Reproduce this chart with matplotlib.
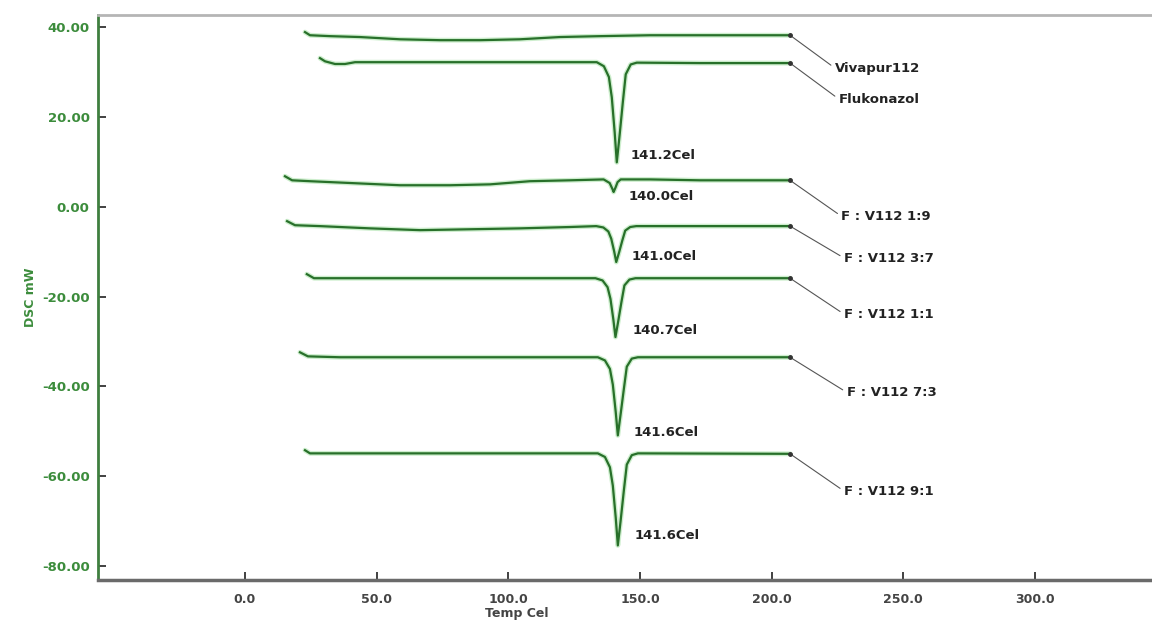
import matplotlib
matplotlib.use("Agg")
import matplotlib.pyplot as plt

# Thermogrammes DSC : temperature (Cel) et flux (mW) releves point par point
vivapur_t = [22.8, 24.7, 32.3, 43.7, 58.9, 74.1, 89.3, 104.4, 119.6, 134.8, 153.8, 172.8, 207.0]
vivapur_y = [38.9, 38.2, 38.0, 37.8, 37.3, 37.1, 37.1, 37.3, 37.8, 38.0, 38.2, 38.2, 38.2]

fluko_t = [28.5, 30.4, 34.2, 38.0, 41.8, 47.5, 77.9, 115.8, 133.6, 136.3, 138.2, 139.3, 140.4,
           141.2, 142.3, 143.5, 144.6, 146.5, 148.8, 172.8, 207.0]
fluko_y = [33.1, 32.4, 31.8, 31.8, 32.2, 32.2, 32.2, 32.2, 32.2, 31.3, 28.9, 24.4, 16.6,
           9.9, 16.1, 23.3, 29.5, 31.7, 32.1, 32.0, 32.0]

f19_t = [15.2, 17.9, 24.7, 39.9, 58.9, 77.9, 93.1, 108.2, 123.4, 136.2, 138.5, 139.6,
         140.0, 140.8, 141.5, 142.7, 153.8, 172.8, 207.0]
f19_y = [6.8, 5.9, 5.7, 5.3, 4.8, 4.8, 5.0, 5.7, 5.9, 6.1, 5.3, 3.9,
         3.3, 4.4, 5.5, 6.1, 6.1, 5.9, 5.9]

f37_t = [16.0, 19.0, 28.5, 47.5, 66.5, 85.5, 104.4, 123.4, 133.4, 136.1, 138.0, 139.1, 140.2,
         141.0, 142.1, 143.3, 144.4, 146.3, 148.6, 172.8, 207.0]
f37_y = [-3.2, -4.1, -4.3, -4.8, -5.2, -5.0, -4.8, -4.5, -4.3, -4.6, -5.5, -7.1, -9.9,
         -12.3, -10.1, -7.5, -5.3, -4.5, -4.3, -4.3, -4.3]

f11_t = [23.5, 26.2, 58.9, 115.8, 133.1, 135.8, 137.7, 138.8, 139.9,
         140.7, 141.8, 143.0, 144.1, 146.0, 148.3, 207.0]
f11_y = [-15.0, -15.9, -15.9, -15.9, -15.9, -16.4, -17.9, -20.5, -25.1,
         -29.0, -25.3, -21.1, -17.5, -16.2, -15.9, -15.9]

f73_t = [20.9, 23.9, 36.1, 115.8, 134.0, 136.7, 138.6, 139.7, 140.8,
         141.6, 142.7, 143.9, 145.0, 146.9, 149.2, 207.0]
f73_y = [-32.4, -33.3, -33.5, -33.5, -33.5, -34.2, -36.1, -39.6, -45.7,
         -50.9, -46.0, -40.5, -35.6, -33.8, -33.5, -33.5]

f91_t = [22.8, 24.7, 115.8, 134.0, 136.7, 138.6, 139.7, 140.8,
         141.6, 142.7, 143.9, 145.0, 146.9, 149.2, 207.0]
f91_y = [-54.2, -54.9, -54.9, -54.9, -55.7, -58.0, -62.1, -69.2,
         -75.4, -69.7, -63.1, -57.4, -55.3, -54.9, -55.0]

noms = ["Vivapur112", "Flukonazol", "F : V112 1:9", "F : V112 3:7",
        "F : V112 1:1", "F : V112 7:3", "F : V112 9:1"]
courbes_t = [vivapur_t, fluko_t, f19_t, f37_t, f11_t, f73_t, f91_t]
courbes_y = [vivapur_y, fluko_y, f19_y, f37_y, f11_y, f73_y, f91_y]

# Position des etiquettes a droite (temperature, mW)
etiquettes_t = [224.0, 225.5, 226.5, 227.5, 227.5, 228.5, 227.5]
etiquettes_y = [30.9, 24.0, -2.1, -11.4, -23.9, -41.3, -63.3]

# Pics de fusion annotes
pics_t = [141.2, 140.0, 141.0, 140.7, 141.6, 141.6]
pics_y = [9.9, 3.3, -12.3, -29.0, -50.9, -75.4]
pics_texte = ["141.2Cel", "140.0Cel", "141.0Cel", "140.7Cel", "141.6Cel", "141.6Cel"]
pics_decalage = [(10, 5), (11, -3), (11, 4), (12, 5), (11, 2), (12, 7)]

x_ticks = [0, 50, 100, 150, 200, 250, 300]
y_ticks = [40, 20, 0, -20, -40, -60, -80]

vert = "#28702a"
vert_clair = "#cdeecd"
gris = "#333333"

fig = plt.figure(figsize=(11.52, 6.24), dpi=100)
ax = fig.add_axes([0.0851, 0.0705, 0.915, 0.9054])

for t, y in zip(courbes_t, courbes_y):
    ax.plot(t, y, color=vert_clair, lw=3.5, solid_capstyle="round", zorder=2)
    ax.plot(t, y, color=vert, lw=1.6, zorder=3)
    ax.plot(t[-1], y[-1], marker="o", ms=2.5, color=gris, zorder=4)

for t, y, nom, lt, ly in zip(courbes_t, courbes_y, noms, etiquettes_t, etiquettes_y):
    ax.annotate(nom, xy=(t[-1], y[-1]), xytext=(lt, ly), ha="left", va="center",
                fontsize=9.5, fontweight="bold", color="#222222",
                arrowprops=dict(arrowstyle="-", color="#555555", lw=0.8,
                                relpos=(0, 0.5), shrinkA=1, shrinkB=0))

for pt, py, txt, dec in zip(pics_t, pics_y, pics_texte, pics_decalage):
    ax.annotate(txt, xy=(pt, py), xytext=dec, textcoords="offset points",
                ha="left", va="center", fontsize=9.5, fontweight="bold", color="#222222")

ax.set_xlim(-55.8, 344.5)
ax.set_ylim(-83.1, 42.7)
ax.set_xticks(x_ticks)
ax.set_xticklabels([f"{v:.1f}" for v in x_ticks])
ax.set_yticks(y_ticks)
ax.set_yticklabels([f"{v:.2f}" for v in y_ticks])

ax.tick_params(axis="both", direction="in", length=6, width=1.3, color=gris)
ax.tick_params(axis="y", pad=6, labelsize=9.5, labelcolor="#3c8c3c")
ax.tick_params(axis="x", pad=9, labelsize=9, labelcolor="#444444")
for lab in ax.get_xticklabels() + ax.get_yticklabels():
    lab.set_fontweight("bold")

ax.spines["left"].set_color("#3f7f3f")
ax.spines["left"].set_linewidth(2)
ax.spines["bottom"].set_color("#6a6a6a")
ax.spines["bottom"].set_linewidth(2.5)
ax.spines["top"].set_color("#b5b5b5")
ax.spines["top"].set_linewidth(2)
ax.spines["right"].set_visible(False)

ax.set_xlabel("Temp Cel", fontsize=9, fontweight="bold", color="#444444")
ax.xaxis.set_label_coords(0.3975, -0.048)
ax.set_ylabel("DSC mW", fontsize=9, fontweight="bold", color="#3c8c3c")
ax.yaxis.set_label_coords(-0.058, 0.5)

fig.savefig("out.png", dpi=100)
